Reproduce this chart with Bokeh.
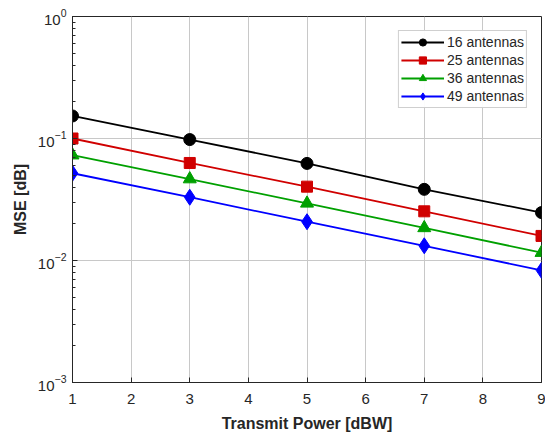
from bokeh.plotting import figure
from bokeh.embed import file_html
from bokeh.resources import INLINE
from bokeh.models import FixedTicker, Legend, LegendItem, Range1d

power = [1, 3, 5, 7, 9]
mse_16 = [0.153, 0.098, 0.0625, 0.0383, 0.0247]
mse_25 = [0.100, 0.063, 0.0403, 0.0253, 0.0159]
mse_36 = [0.073, 0.0465, 0.0294, 0.0185, 0.0116]
mse_49 = [0.0519, 0.033, 0.0208, 0.0132, 0.0083]
labels = ["16 antennas", "25 antennas", "36 antennas", "49 antennas"]

FONT = "Liberation Sans"

p = figure(width=545, height=435, output_backend="svg", toolbar_location=None,
           y_axis_type="log", x_range=Range1d(1, 9), y_range=Range1d(1e-3, 1),
           min_border_left=72, min_border_right=4, min_border_top=16, min_border_bottom=53)
p.outline_line_color = "#262626"
p.outline_line_width = 1

series = [
    (mse_16, "black", "circle", 12),
    (mse_25, "#d00000", "square", 11),
    (mse_36, "#00a000", "triangle", 13),
    (mse_49, "#0000ff", "diamond", 16),
]
items = []
for (vals, col, mk, sz), lab in zip(series, labels):
    r1 = p.line(power, vals, line_color=col, line_width=1.8)
    r2 = p.scatter(power, vals, marker=mk, size=sz, fill_color=col, line_color=col)
    items.append(LegendItem(label=lab, renderers=[r1, r2]))

leg = Legend(items=items, location="top_right")
leg.label_text_font = FONT
leg.label_text_font_size = "14px"
leg.label_text_color = "#262626"
leg.border_line_color = "#a0a0a0"
leg.border_line_width = 1
leg.glyph_width = 43
leg.glyph_height = 18
leg.spacing = 0
leg.padding = 2
leg.margin = 14
leg.label_standoff = 3
leg.label_height = 18
p.add_layout(leg)

p.xaxis.ticker = FixedTicker(ticks=[1, 2, 3, 4, 5, 6, 7, 8, 9])
p.yaxis.ticker.desired_num_ticks = 4
for ax in [p.xaxis[0], p.yaxis[0]]:
    ax.major_tick_in = 5
    ax.major_tick_out = 0
    ax.minor_tick_in = 3
    ax.minor_tick_out = 0
    ax.axis_line_color = "#262626"
    ax.major_tick_line_color = "#262626"
    ax.minor_tick_line_color = "#262626"
    ax.major_label_text_font = FONT
    ax.major_label_text_font_size = "15px"
    ax.major_label_text_color = "#262626"
    ax.axis_label_text_font = FONT
    ax.axis_label_text_font_size = "16px"
    ax.axis_label_text_font_style = "bold"
    ax.axis_label_text_color = "#262626"
p.xaxis.minor_tick_line_color = None
p.xaxis.axis_label = "Transmit Power [dBW]"
p.yaxis.axis_label = "MSE [dB]"
p.xaxis.major_label_standoff = 11
p.xaxis.axis_label_standoff = 8
p.yaxis.major_label_standoff = 6
p.yaxis.axis_label_standoff = 6

p.xgrid.grid_line_color = "#c8c8c8"
p.ygrid.grid_line_color = "#c8c8c8"

open("out.html", "w").write(file_html(p, INLINE))
